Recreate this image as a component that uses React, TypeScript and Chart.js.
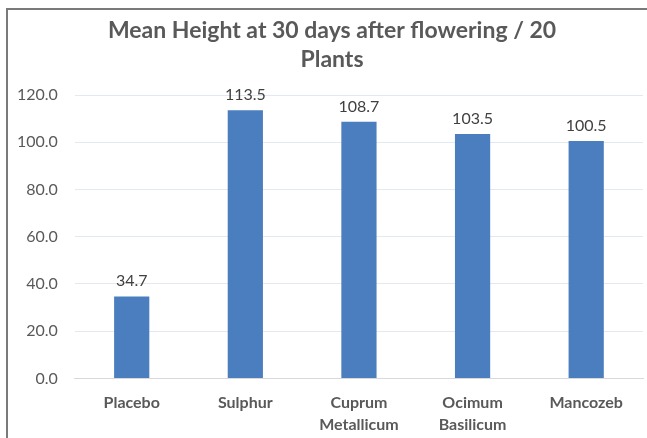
import React, { useEffect, useRef } from "react";
import { Chart, registerables } from "chart.js";

Chart.register(...registerables);

const TITLE_LINES = ["Mean Height at 30 days after flowering / 20", "Plants"];
const CATEGORIES: string[][] = [
  ["Placebo"],
  ["Sulphur"],
  ["Cuprum", "Metallicum"],
  ["Ocimum", "Basilicum"],
  ["Mancozeb"],
];
const MEAN_HEIGHTS = [34.7, 113.5, 108.7, 103.5, 100.5];
const Y_MIN = 0;
const Y_MAX = 120;
const Y_STEP = 20;

const FONT = "Lato, 'Open Sans', 'Liberation Sans', sans-serif";
const BAR_COLOR = "#4a7ebf";

const framePlugin = {
  id: "frame",
  beforeDraw(chart: any) {
    const { ctx, width, height } = chart;
    ctx.save();
    ctx.fillStyle = "#ffffff";
    ctx.fillRect(0, 0, width, height);
    ctx.strokeStyle = "#7a7a7a";
    ctx.lineWidth = 2;
    ctx.beginPath();
    ctx.moveTo(7, height);
    ctx.lineTo(7, 9);
    ctx.lineTo(width, 9);
    ctx.stroke();
    ctx.restore();
  },
};

const titlePlugin = {
  id: "customTitle",
  afterDraw(chart: any) {
    const { ctx } = chart;
    ctx.save();
    ctx.fillStyle = "#595959";
    ctx.font = `bold 23px ${FONT}`;
    ctx.textAlign = "center";
    ctx.textBaseline = "alphabetic";
    const cx = 332;
    TITLE_LINES.forEach((line, i) => {
      ctx.fillText(line, cx, 38 + i * 29);
    });
    ctx.restore();
  },
};

const dataLabelPlugin = {
  id: "dataLabels",
  afterDatasetsDraw(chart: any) {
    const { ctx } = chart;
    ctx.save();
    ctx.fillStyle = "#404040";
    ctx.font = `16px ${FONT}`;
    ctx.textAlign = "center";
    ctx.textBaseline = "alphabetic";
    const meta = chart.getDatasetMeta(0);
    meta.data.forEach((bar: any, i: number) => {
      const v = chart.data.datasets[0].data[i] as number;
      ctx.fillText(v.toFixed(1), bar.x, bar.y - 10);
    });
    ctx.restore();
  },
};

export default function App() {
  const canvasRef = useRef<HTMLCanvasElement | null>(null);

  useEffect(() => {
    if (!canvasRef.current) return;
    const chart = new Chart(canvasRef.current, {
      type: "bar",
      data: {
        labels: CATEGORIES,
        datasets: [
          {
            data: MEAN_HEIGHTS,
            backgroundColor: BAR_COLOR,
            borderWidth: 0,
            barPercentage: 0.31,
            categoryPercentage: 1,
          },
        ],
      },
      options: {
        responsive: false,
        animation: false,
        devicePixelRatio: 1,
        layout: { padding: { left: 0, right: 4, top: 95, bottom: -11 } },
        plugins: {
          legend: { display: false },
          title: { display: false },
          tooltip: { enabled: false },
        },
        scales: {
          x: {
            grid: { display: false, drawTicks: false },
            border: { display: true, color: "#d9d9d9", width: 1 },
            ticks: {
              color: "#595959",
              font: { family: FONT, size: 16, weight: "bold", lineHeight: 1.33 },
              padding: 14,
              maxRotation: 0,
              autoSkip: false,
            },
          },
          y: {
            min: Y_MIN,
            max: Y_MAX,
            grid: { color: "#e4e9ef", drawTicks: false },
            border: { display: false },
            ticks: {
              stepSize: Y_STEP,
              color: "#595959",
              font: { family: FONT, size: 16 },
              padding: 17,
              callback: (v: any) => Number(v).toFixed(1),
            },
          },
        },
      },
      plugins: [framePlugin, titlePlugin, dataLabelPlugin],
    });
    return () => chart.destroy();
  }, []);

  return (
    <div style={{ position: "fixed", left: 0, top: 0, width: 647, height: 438, background: "#fff" }}>
      <canvas ref={canvasRef} width={647} height={438} style={{ display: "block" }} />
    </div>
  );
}
